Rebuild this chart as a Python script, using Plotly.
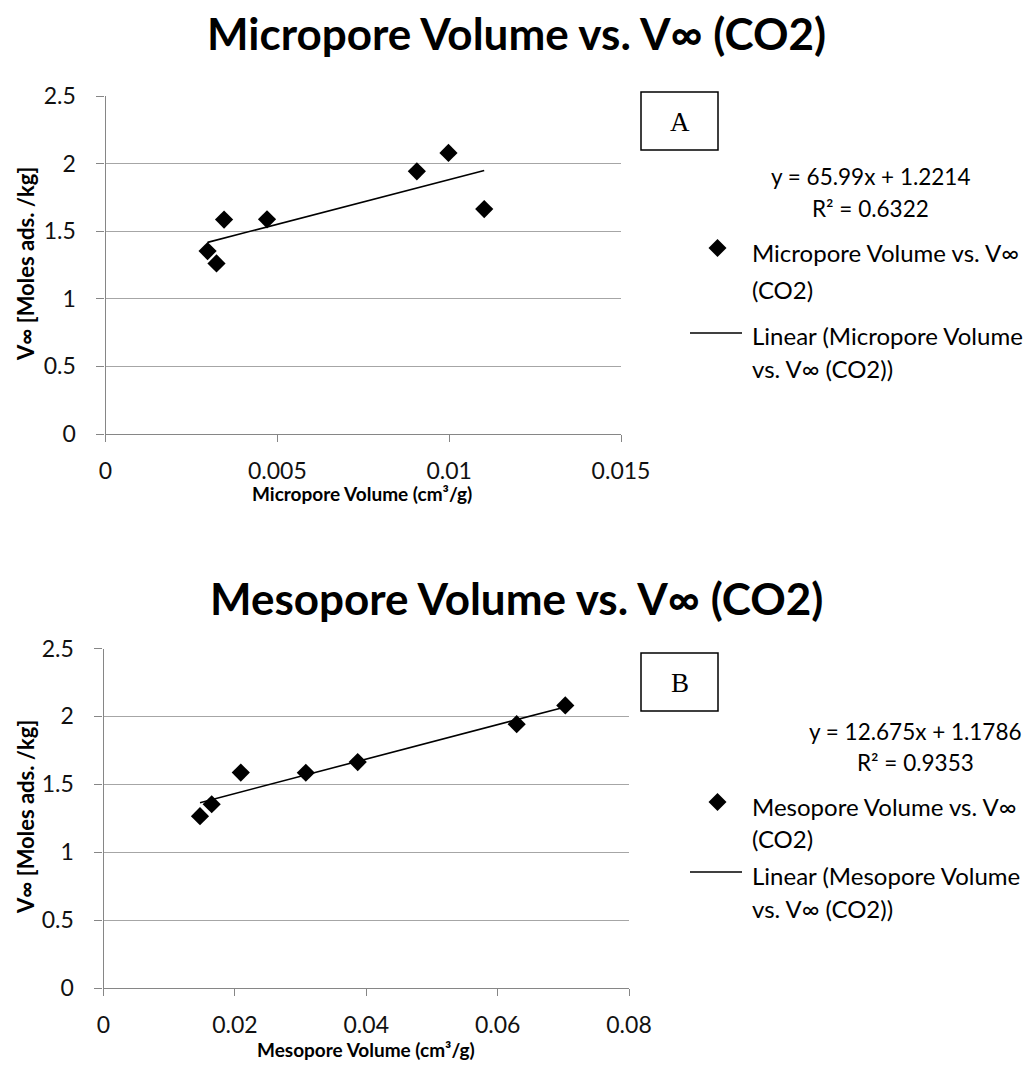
import plotly.graph_objects as go

# Panel A: micropore volume against V-infinity (CO2)
micro_x = [0.00297, 0.00323, 0.00345, 0.00470, 0.00906, 0.00998, 0.01102]
micro_y = [1.353, 1.262, 1.586, 1.588, 1.943, 2.079, 1.664]
micro_slope, micro_intercept, micro_r2 = 65.99, 1.2214, 0.6322

# Panel B: mesopore volume against V-infinity (CO2)
meso_x = [0.01469, 0.01647, 0.0209, 0.0308, 0.0387, 0.0629, 0.0703]
meso_y = [1.265, 1.353, 1.586, 1.585, 1.664, 1.943, 2.081]
meso_slope, meso_intercept, meso_r2 = 12.675, 1.1786, 0.9353

y_ticks = [0, 0.5, 1, 1.5, 2, 2.5]
y_tick_text = ["0", "0.5", "1", "1.5", "2", "2.5"]
micro_x_ticks = [0, 0.005, 0.01, 0.015]
micro_x_text = ["0", "0.005", "0.01", "0.015"]
meso_x_ticks = [0, 0.02, 0.04, 0.06, 0.08]
meso_x_text = ["0", "0.02", "0.04", "0.06", "0.08"]

# figure kept 16px smaller than the 1032x1078 window so the page never overflows
W, H = 1024, 1062
FONT = "Lato"


def px(x):
    """pixel x -> paper fraction"""
    return x / W


def py(y):
    """pixel y (from top) -> paper fraction"""
    return 1 - y / H


def trend(xs, m, b):
    lo, hi = min(xs), max(xs)
    return [lo, hi], [m * lo + b, m * hi + b]


fig = go.Figure()

panels = [
    dict(x=micro_x, y=micro_y, m=micro_slope, b=micro_intercept, r2=micro_r2,
         xa="x", ya="y", name="Micropore Volume vs. V\u221e (CO2)"),
    dict(x=meso_x, y=meso_y, m=meso_slope, b=meso_intercept, r2=meso_r2,
         xa="x2", ya="y2", name="Mesopore Volume vs. V\u221e (CO2)"),
]

for p in panels:
    tx, ty = trend(p["x"], p["m"], p["b"])
    fig.add_trace(go.Scatter(x=tx, y=ty, mode="lines", xaxis=p["xa"], yaxis=p["ya"],
                             line=dict(color="black", width=1.6),
                             name="Linear (" + p["name"] + ")", showlegend=False,
                             hoverinfo="skip"))
    fig.add_trace(go.Scatter(x=p["x"], y=p["y"], mode="markers", xaxis=p["xa"], yaxis=p["ya"],
                             marker=dict(symbol="diamond", size=14, color="black",
                                         line=dict(width=0)),
                             name=p["name"], showlegend=False))

tick_font = dict(family=FONT, size=23, color="#111111")
x_common = dict(showline=True, linecolor="#868686", linewidth=1.3,
                ticks="outside", ticklen=7, tickcolor="#868686", tickwidth=1.3,
                tickfont=tick_font, ticklabelstandoff=9, zeroline=False,
                fixedrange=True, showgrid=False)
y_common = dict(showline=True, linecolor="#868686", linewidth=1.3,
                ticks="outside", ticklen=8, tickcolor="#868686", tickwidth=1.3,
                tickfont=tick_font, ticklabelstandoff=16, zeroline=False,
                fixedrange=True, showgrid=True, gridcolor="#a6a6a6", gridwidth=1.3,
                range=[0, 2.5], tickvals=y_ticks, ticktext=y_tick_text)

fig.update_layout(
    width=W, height=H, margin=dict(l=0, r=0, t=0, b=0, autoexpand=False),
    paper_bgcolor="white", plot_bgcolor="white", showlegend=False,
    xaxis=dict(domain=[px(105.5), px(621)], range=[0, 0.015], tickvals=micro_x_ticks,
               ticktext=micro_x_text, anchor="y", **x_common),
    yaxis=dict(domain=[py(434), py(96)], anchor="x", **y_common),
    xaxis2=dict(domain=[px(103.5), px(629)], range=[0, 0.08], tickvals=meso_x_ticks,
                ticktext=meso_x_text, anchor="y2", **x_common),
    yaxis2=dict(domain=[py(988), py(648.5)], anchor="x2", **y_common),
)

ann = []
shapes = []


def text(x, y, s, size, bold=False, xanchor="center", angle=0, family=FONT):
    if bold:
        s = "<b>" + s + "</b>"
    ann.append(dict(x=px(x), y=py(y), xref="paper", yref="paper", text=s,
                    showarrow=False, xanchor=xanchor, yanchor="middle", textangle=angle,
                    font=dict(family=family, size=size, color="black")))


layout_px = [
    dict(title="Micropore Volume vs. V\u221e (CO2)", ty=33, xt="Micropore Volume (cm\u00b3/g)",
         xtx=362, xty=494, yty=264, box=92, letter="A", eqx=870, eqy=177,
         leg=[252, 289, 336, 369], p=panels[0]),
    dict(title="Mesopore Volume vs. V\u221e (CO2)", ty=598, xt="Mesopore Volume (cm\u00b3/g)",
         xtx=366, xty=1049, yty=817, box=653, letter="B", eqx=915, eqy=731,
         leg=[806, 838, 875, 908], p=panels[1]),
]

for L in layout_px:
    p = L["p"]
    text(516, L["ty"], L["title"], 44, bold=True)
    text(L["xtx"], L["xty"], L["xt"], 19, bold=True)
    text(25, L["yty"], "V\u221e [Moles ads. /kg]", 22, bold=True, angle=-90)
    # boxed panel letter
    shapes.append(dict(type="rect", xref="paper", yref="paper",
                       x0=px(641), x1=px(718), y0=py(L["box"] + 58), y1=py(L["box"]),
                       line=dict(color="black", width=1.5), fillcolor="white"))
    text(679.5, L["box"] + 30, L["letter"], 27, family="Liberation Serif")
    # trendline equation and R²
    text(L["eqx"], L["eqy"], f"y = {p['m']}x + {p['b']}", 22.5)
    text(L["eqx"], L["eqy"] + 31, f"R\u00b2 = {p['r2']}", 22.5)
    # legend: marker entry and trendline entry
    l1, l2, l3, l4 = L["leg"]
    cx, cy, r = 717.5, l1 - 4, 9
    shapes.append(dict(type="path", xref="paper", yref="paper",
                       path=f"M {px(cx - r)} {py(cy)} L {px(cx)} {py(cy - r)} "
                            f"L {px(cx + r)} {py(cy)} L {px(cx)} {py(cy + r)} Z",
                       fillcolor="black", line=dict(width=0)))
    name = p["name"]
    head, tail = name.rsplit(" ", 1)
    text(750, l1, head, 24, xanchor="left")
    text(750, l2, tail, 24, xanchor="left")
    shapes.append(dict(type="line", xref="paper", yref="paper",
                       x0=px(690), x1=px(742), y0=py(l3 - 3), y1=py(l3 - 3),
                       line=dict(color="black", width=1.6)))
    lin = "Linear (" + name + ")"
    split_at = lin.index(" vs.")
    text(750, l3, lin[:split_at], 24, xanchor="left")
    text(750, l4, lin[split_at + 1:], 24, xanchor="left")

fig.update_layout(annotations=ann, shapes=shapes)
fig.write_html("out.html")
